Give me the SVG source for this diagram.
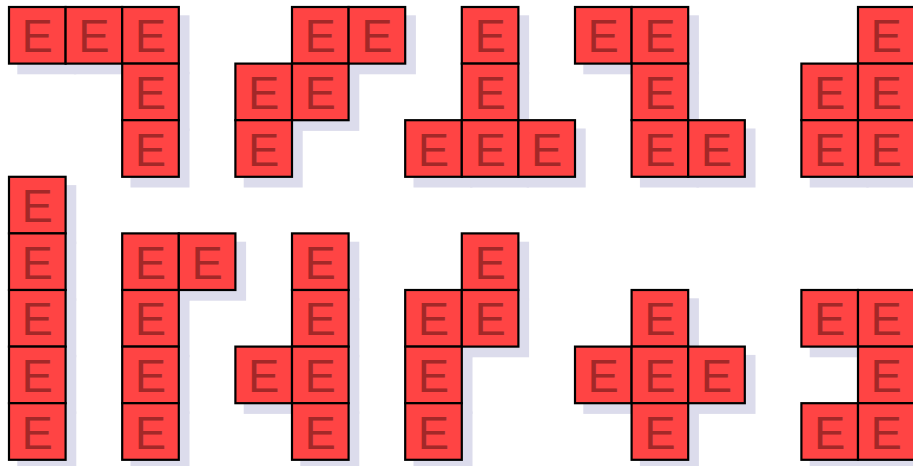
<svg xmlns="http://www.w3.org/2000/svg" width="913" height="466" viewBox="0 0 913 466">
<style>
.sh{fill:#dcdcec}
.c{fill:#ff4444;stroke:#000;stroke-width:2.2}
.t{font-family:"Liberation Sans",Arial,sans-serif;font-size:47px;fill:#a32828;text-anchor:middle}
</style>
<rect width="913" height="466" fill="#fff"/>
<g id="p1">
<rect class="sh" x="17.3" y="15.3" width="59" height="59"/><rect class="sh" x="73.9" y="15.3" width="59" height="59"/><rect class="sh" x="130.5" y="15.3" width="59" height="59"/><rect class="sh" x="130.5" y="71.9" width="59" height="59"/><rect class="sh" x="130.5" y="128.5" width="59" height="59"/>
<rect class="c" x="9" y="7" width="56.6" height="56.6"/><text class="t" x="37.3" y="52.3">E</text>
<rect class="c" x="65.6" y="7" width="56.6" height="56.6"/><text class="t" x="93.9" y="52.3">E</text>
<rect class="c" x="122.2" y="7" width="56.6" height="56.6"/><text class="t" x="150.5" y="52.3">E</text>
<rect class="c" x="122.2" y="63.6" width="56.6" height="56.6"/><text class="t" x="150.5" y="108.9">E</text>
<rect class="c" x="122.2" y="120.2" width="56.6" height="56.6"/><text class="t" x="150.5" y="165.5">E</text>
</g>
<g id="p2">
<rect class="sh" x="300.3" y="15.3" width="59" height="59"/><rect class="sh" x="356.9" y="15.3" width="59" height="59"/><rect class="sh" x="243.7" y="71.9" width="59" height="59"/><rect class="sh" x="300.3" y="71.9" width="59" height="59"/><rect class="sh" x="243.7" y="128.5" width="59" height="59"/>
<rect class="c" x="292" y="7" width="56.6" height="56.6"/><text class="t" x="320.3" y="52.3">E</text>
<rect class="c" x="348.6" y="7" width="56.6" height="56.6"/><text class="t" x="376.9" y="52.3">E</text>
<rect class="c" x="235.4" y="63.6" width="56.6" height="56.6"/><text class="t" x="263.7" y="108.9">E</text>
<rect class="c" x="292" y="63.6" width="56.6" height="56.6"/><text class="t" x="320.3" y="108.9">E</text>
<rect class="c" x="235.4" y="120.2" width="56.6" height="56.6"/><text class="t" x="263.7" y="165.5">E</text>
</g>
<g id="p3">
<rect class="sh" x="470.1" y="15.3" width="59" height="59"/><rect class="sh" x="470.1" y="71.9" width="59" height="59"/><rect class="sh" x="413.5" y="128.5" width="59" height="59"/><rect class="sh" x="470.1" y="128.5" width="59" height="59"/><rect class="sh" x="526.7" y="128.5" width="59" height="59"/>
<rect class="c" x="461.8" y="7" width="56.6" height="56.6"/><text class="t" x="490.1" y="52.3">E</text>
<rect class="c" x="461.8" y="63.6" width="56.6" height="56.6"/><text class="t" x="490.1" y="108.9">E</text>
<rect class="c" x="405.2" y="120.2" width="56.6" height="56.6"/><text class="t" x="433.5" y="165.5">E</text>
<rect class="c" x="461.8" y="120.2" width="56.6" height="56.6"/><text class="t" x="490.1" y="165.5">E</text>
<rect class="c" x="518.4" y="120.2" width="56.6" height="56.6"/><text class="t" x="546.7" y="165.5">E</text>
</g>
<g id="p4">
<rect class="sh" x="583.3" y="15.3" width="59" height="59"/><rect class="sh" x="639.9" y="15.3" width="59" height="59"/><rect class="sh" x="639.9" y="71.9" width="59" height="59"/><rect class="sh" x="639.9" y="128.5" width="59" height="59"/><rect class="sh" x="696.5" y="128.5" width="59" height="59"/>
<rect class="c" x="575" y="7" width="56.6" height="56.6"/><text class="t" x="603.3" y="52.3">E</text>
<rect class="c" x="631.6" y="7" width="56.6" height="56.6"/><text class="t" x="659.9" y="52.3">E</text>
<rect class="c" x="631.6" y="63.6" width="56.6" height="56.6"/><text class="t" x="659.9" y="108.9">E</text>
<rect class="c" x="631.6" y="120.2" width="56.6" height="56.6"/><text class="t" x="659.9" y="165.5">E</text>
<rect class="c" x="688.2" y="120.2" width="56.6" height="56.6"/><text class="t" x="716.5" y="165.5">E</text>
</g>
<g id="p5">
<rect class="sh" x="866.3" y="15.3" width="59" height="59"/><rect class="sh" x="809.7" y="71.9" width="59" height="59"/><rect class="sh" x="866.3" y="71.9" width="59" height="59"/><rect class="sh" x="809.7" y="128.5" width="59" height="59"/><rect class="sh" x="866.3" y="128.5" width="59" height="59"/>
<rect class="c" x="858" y="7" width="56.6" height="56.6"/><text class="t" x="886.3" y="52.3">E</text>
<rect class="c" x="801.4" y="63.6" width="56.6" height="56.6"/><text class="t" x="829.7" y="108.9">E</text>
<rect class="c" x="858" y="63.6" width="56.6" height="56.6"/><text class="t" x="886.3" y="108.9">E</text>
<rect class="c" x="801.4" y="120.2" width="56.6" height="56.6"/><text class="t" x="829.7" y="165.5">E</text>
<rect class="c" x="858" y="120.2" width="56.6" height="56.6"/><text class="t" x="886.3" y="165.5">E</text>
</g>
<g id="p6">
<rect class="sh" x="17.3" y="185.1" width="59" height="59"/><rect class="sh" x="17.3" y="241.7" width="59" height="59"/><rect class="sh" x="17.3" y="298.3" width="59" height="59"/><rect class="sh" x="17.3" y="354.9" width="59" height="59"/><rect class="sh" x="17.3" y="411.5" width="59" height="59"/>
<rect class="c" x="9" y="176.8" width="56.6" height="56.6"/><text class="t" x="37.3" y="222.1">E</text>
<rect class="c" x="9" y="233.4" width="56.6" height="56.6"/><text class="t" x="37.3" y="278.7">E</text>
<rect class="c" x="9" y="290" width="56.6" height="56.6"/><text class="t" x="37.3" y="335.3">E</text>
<rect class="c" x="9" y="346.6" width="56.6" height="56.6"/><text class="t" x="37.3" y="391.9">E</text>
<rect class="c" x="9" y="403.2" width="56.6" height="56.6"/><text class="t" x="37.3" y="448.5">E</text>
</g>
<g id="p7">
<rect class="sh" x="130.5" y="241.7" width="59" height="59"/><rect class="sh" x="187.1" y="241.7" width="59" height="59"/><rect class="sh" x="130.5" y="298.3" width="59" height="59"/><rect class="sh" x="130.5" y="354.9" width="59" height="59"/><rect class="sh" x="130.5" y="411.5" width="59" height="59"/>
<rect class="c" x="122.2" y="233.4" width="56.6" height="56.6"/><text class="t" x="150.5" y="278.7">E</text>
<rect class="c" x="178.8" y="233.4" width="56.6" height="56.6"/><text class="t" x="207.1" y="278.7">E</text>
<rect class="c" x="122.2" y="290" width="56.6" height="56.6"/><text class="t" x="150.5" y="335.3">E</text>
<rect class="c" x="122.2" y="346.6" width="56.6" height="56.6"/><text class="t" x="150.5" y="391.9">E</text>
<rect class="c" x="122.2" y="403.2" width="56.6" height="56.6"/><text class="t" x="150.5" y="448.5">E</text>
</g>
<g id="p8">
<rect class="sh" x="300.3" y="241.7" width="59" height="59"/><rect class="sh" x="300.3" y="298.3" width="59" height="59"/><rect class="sh" x="243.7" y="354.9" width="59" height="59"/><rect class="sh" x="300.3" y="354.9" width="59" height="59"/><rect class="sh" x="300.3" y="411.5" width="59" height="59"/>
<rect class="c" x="292" y="233.4" width="56.6" height="56.6"/><text class="t" x="320.3" y="278.7">E</text>
<rect class="c" x="292" y="290" width="56.6" height="56.6"/><text class="t" x="320.3" y="335.3">E</text>
<rect class="c" x="235.4" y="346.6" width="56.6" height="56.6"/><text class="t" x="263.7" y="391.9">E</text>
<rect class="c" x="292" y="346.6" width="56.6" height="56.6"/><text class="t" x="320.3" y="391.9">E</text>
<rect class="c" x="292" y="403.2" width="56.6" height="56.6"/><text class="t" x="320.3" y="448.5">E</text>
</g>
<g id="p9">
<rect class="sh" x="470.1" y="241.7" width="59" height="59"/><rect class="sh" x="413.5" y="298.3" width="59" height="59"/><rect class="sh" x="470.1" y="298.3" width="59" height="59"/><rect class="sh" x="413.5" y="354.9" width="59" height="59"/><rect class="sh" x="413.5" y="411.5" width="59" height="59"/>
<rect class="c" x="461.8" y="233.4" width="56.6" height="56.6"/><text class="t" x="490.1" y="278.7">E</text>
<rect class="c" x="405.2" y="290" width="56.6" height="56.6"/><text class="t" x="433.5" y="335.3">E</text>
<rect class="c" x="461.8" y="290" width="56.6" height="56.6"/><text class="t" x="490.1" y="335.3">E</text>
<rect class="c" x="405.2" y="346.6" width="56.6" height="56.6"/><text class="t" x="433.5" y="391.9">E</text>
<rect class="c" x="405.2" y="403.2" width="56.6" height="56.6"/><text class="t" x="433.5" y="448.5">E</text>
</g>
<g id="p10">
<rect class="sh" x="639.9" y="298.3" width="59" height="59"/><rect class="sh" x="583.3" y="354.9" width="59" height="59"/><rect class="sh" x="639.9" y="354.9" width="59" height="59"/><rect class="sh" x="696.5" y="354.9" width="59" height="59"/><rect class="sh" x="639.9" y="411.5" width="59" height="59"/>
<rect class="c" x="631.6" y="290" width="56.6" height="56.6"/><text class="t" x="659.9" y="335.3">E</text>
<rect class="c" x="575" y="346.6" width="56.6" height="56.6"/><text class="t" x="603.3" y="391.9">E</text>
<rect class="c" x="631.6" y="346.6" width="56.6" height="56.6"/><text class="t" x="659.9" y="391.9">E</text>
<rect class="c" x="688.2" y="346.6" width="56.6" height="56.6"/><text class="t" x="716.5" y="391.9">E</text>
<rect class="c" x="631.6" y="403.2" width="56.6" height="56.6"/><text class="t" x="659.9" y="448.5">E</text>
</g>
<g id="p11">
<rect class="sh" x="809.7" y="298.3" width="59" height="59"/><rect class="sh" x="866.3" y="298.3" width="59" height="59"/><rect class="sh" x="866.3" y="354.9" width="59" height="59"/><rect class="sh" x="809.7" y="411.5" width="59" height="59"/><rect class="sh" x="866.3" y="411.5" width="59" height="59"/>
<rect class="c" x="801.4" y="290" width="56.6" height="56.6"/><text class="t" x="829.7" y="335.3">E</text>
<rect class="c" x="858" y="290" width="56.6" height="56.6"/><text class="t" x="886.3" y="335.3">E</text>
<rect class="c" x="858" y="346.6" width="56.6" height="56.6"/><text class="t" x="886.3" y="391.9">E</text>
<rect class="c" x="801.4" y="403.2" width="56.6" height="56.6"/><text class="t" x="829.7" y="448.5">E</text>
<rect class="c" x="858" y="403.2" width="56.6" height="56.6"/><text class="t" x="886.3" y="448.5">E</text>
</g>
</svg>
